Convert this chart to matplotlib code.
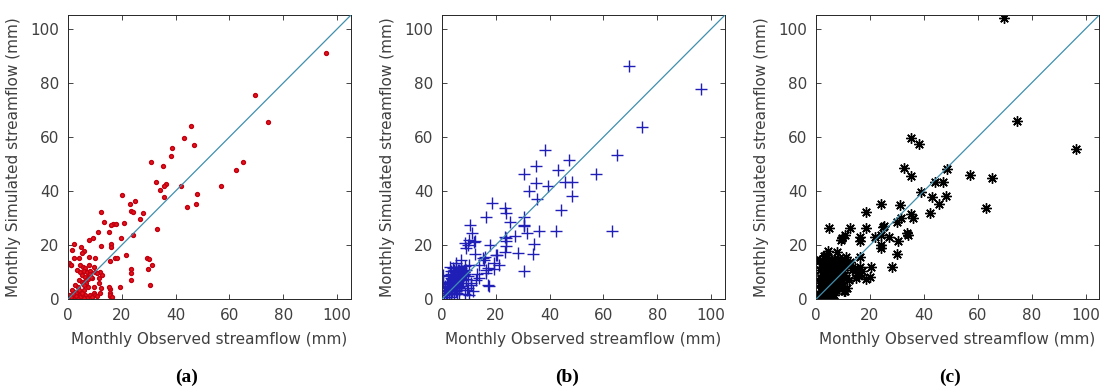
import numpy as np
import matplotlib
matplotlib.use("Agg")
import matplotlib.pyplot as plt

# ---- data (observed, simulated) in mm ----
obs_a = [95.9, 69.4, 74.3, 45.7, 43.0, 47.0, 38.6, 38.2, 30.9, 35.2, 65.2, 62.6, 32.9, 36.5,
         35.9, 41.9, 56.7, 34.1, 20.2, 48.1, 35.9, 24.8, 23.3, 47.7, 44.1, 12.2, 23.6, 24.2,
         28.0, 26.8, 13.6, 16.9, 15.9, 17.8, 20.9, 33.2, 15.4, 11.2, 24.2, 9.5, 8.0, 19.6,
         16.0, 12.3, 16.0, 2.3, 1.6, 4.8, 6.2, 5.2, 17.4, 18.3, 15.8, 21.5, 29.6, 30.1, 31.4,
         29.8, 23.5, 23.6, 23.5, 30.4, 19.5, 15.7, 15.7, 15.7, 0.6, 1.2,
         2.2, 4.1, 7.8, 10.2, 1.3, 4.7, 5.5, 6.5, 7.8, 9.6, 3.4, 4.7, 5.9, 7.1, 8.4, 10.2,
         12.1, 5.3, 6.5, 7.8, 9.0, 10.9, 11.7, 12.9, 4.1, 5.3, 6.2, 2.8, 3.8, 4.3, 7.5, 9.6,
         11.5, 12.5, 15.2, 0.4, 1.6, 3.4, 4.1, 6.5, 8.4, 9.6, 10.2, 2.8, 5.9, 15.8, 16.4,
         1.0, 2.0, 3.0, 4.5, 5.5, 2.4, 7.2, 9.0, 11.0, 12.0, 1.5, 3.2, 6.8, 7.4, 8.1, 5.0,
         0.8, 1.8, 2.6, 3.6, 4.8, 6.0, 3.1, 4.4, 2.1, 5.2, 6.9, 7.6, 8.6, 6.2, 1.1, 3.9]
sim_a = [91.1, 75.6, 65.7, 64.2, 59.6, 56.9, 56.0, 53.1, 50.7, 49.4, 50.9, 47.7, 43.3, 42.8,
         42.0, 42.0, 41.9, 40.4, 38.5, 38.8, 37.7, 36.3, 35.3, 35.3, 34.1, 32.3, 32.5, 32.3,
         31.9, 29.6, 28.5, 27.7, 27.4, 27.9, 28.3, 25.9, 24.8, 24.7, 23.7, 22.8, 21.9, 22.6,
         20.4, 19.6, 19.3, 20.4, 18.3, 19.3, 18.0, 17.0, 15.4, 15.3, 14.2, 16.5, 15.4, 14.9,
         12.7, 11.1, 11.1, 9.6, 7.2, 5.4, 4.7, 3.7, 2.5, 1.2, 13.3, 12.5,
         15.2, 15.2, 15.8, 15.2, 12.7, 12.7, 12.1, 11.7, 12.5, 12.1, 10.9, 10.2, 10.5, 10.2,
         10.5, 10.2, 10.2, 9.0, 8.4, 8.8, 7.8, 9.6, 7.8, 9.0, 7.1, 6.5, 5.9, 5.3, 4.7, 3.4,
         4.7, 4.7, 5.9, 4.1, 4.7, 1.6, 1.0, 1.3, 1.6, 1.6, 1.6, 2.2, 1.6, 2.8, 3.4, 1.6, 1.0,
         0.5, 0.3, 0.8, 0.4, 0.9, 2.0, 0.6, 0.8, 1.2, 2.5, 3.5, 2.4, 7.0, 8.0, 9.2, 1.1,
         0.2, 0.6, 0.4, 0.7, 0.3, 0.5, 1.4, 1.0, 1.9, 2.2, 6.2, 7.4, 8.4, 5.2, 0.9, 0.2]

obs_b = [69.6, 96.3, 74.5, 65.1, 57.4, 63.1, 38.4, 47.3, 35.0, 43.3, 30.7, 48.2, 45.9, 35.1,
         39.4, 32.4, 48.5, 35.3, 44.3, 18.7, 23.6, 16.3, 23.9, 30.4, 25.2, 30.4, 30.7, 10.5,
         11.1, 31.8, 36.2, 42.5, 27.3, 23.5, 24.0, 12.2, 8.5, 18.1, 34.4, 24.0, 9.2, 28.2,
         33.7, 20.4, 15.9, 12.3, 23.6, 21.2, 19.5, 30.4, 17.5, 16.3, 16.3, 13.2,
         12.1, 10.1, 9.7, 15.3, 15.8, 20.2, 23.9, 19.5, 13.9, 17.1, 17.1, 12.8, 14.0, 5.4,
         2.9, 0.4, 0.6, 7.2, 8.5, 10.2, 11.0, 10.9,
         1.0, 1.5, 2.0, 2.5, 3.0, 3.5, 4.0, 4.5, 5.0, 5.5, 6.0, 6.5, 7.0, 7.5, 8.0, 8.5,
         1.2, 2.2, 3.2, 4.2, 5.2, 6.2, 7.2, 8.2, 9.2, 2.7, 3.7, 4.7, 5.7, 6.7, 7.7, 8.7,
         1.8, 2.8, 3.8, 4.8, 5.8, 6.8, 7.8, 3.3, 4.3, 5.3, 6.3, 7.3, 2.4, 3.4, 4.4, 5.4,
         6.4, 9.5, 10.0, 1.4, 2.6, 3.6, 4.6, 5.6, 6.6, 8.8, 9.8, 0.8, 11.5,
         3.9, 4.9, 5.9, 6.9, 7.9, 4.1, 5.1, 6.1, 7.1, 8.1, 3.6, 4.6, 5.6, 6.6, 7.6, 2.1,
         3.1, 4.1, 5.1, 6.1, 2.3, 3.3, 4.3, 5.3, 6.3, 7.3, 8.3, 1.6, 2.6, 3.6, 9.0, 9.6,
         5.5, 6.5, 7.5, 4.5, 3.5, 6.0, 7.0, 5.0]
sim_b = [86.2, 77.8, 63.6, 53.3, 46.2, 25.4, 55.2, 51.4, 49.1, 47.7, 46.4, 43.2, 43.3, 43.0,
         42.0, 40.2, 38.3, 37.2, 33.0, 35.7, 33.8, 30.4, 31.9, 30.6, 28.4, 27.4, 27.2, 27.4,
         24.4, 24.4, 25.3, 25.4, 23.5, 23.0, 21.7, 21.7, 21.0, 20.0, 20.4, 19.8, 18.9, 17.0,
         16.8, 16.4, 15.8, 16.8, 17.5, 12.7, 11.1, 10.6, 5.1, 10.9, 9.9, 9.4,
         21.3, 22.0, 20.1, 15.2, 14.4, 16.4, 22.6, 13.3, 12.7, 11.5, 5.3, 7.1, 8.0, 13.3,
         12.1, 9.0, 6.5, 14.6, 12.4, 12.8, 6.2, 5.3,
         1.5, 2.5, 3.5, 4.5, 5.5, 6.5, 7.5, 8.0, 9.0, 9.5, 10.0, 10.5, 10.0, 9.0, 8.5, 9.5,
         3.0, 4.0, 5.0, 6.0, 7.0, 8.0, 9.0, 10.0, 11.0, 6.5, 7.5, 8.5, 9.0, 9.5, 10.5, 11.0,
         1.0, 2.0, 3.0, 4.0, 5.0, 6.0, 7.0, 10.5, 11.5, 3.0, 4.5, 5.0, 8.5, 9.5, 11.0, 12.0,
         2.0, 3.5, 1.5, 5.0, 6.0, 1.0, 2.0, 2.5, 3.5, 2.0, 4.0, 3.0, 3.0,
         6.0, 7.0, 8.0, 9.0, 10.0, 5.0, 6.0, 7.0, 8.0, 9.0, 8.0, 9.0, 10.0, 11.0, 7.0, 5.5,
         6.5, 7.5, 8.5, 9.5, 4.0, 5.0, 6.0, 7.0, 8.0, 9.0, 10.0, 2.5, 4.5, 6.5, 7.5, 8.5,
         4.0, 5.0, 6.0, 3.0, 2.0, 11.0, 11.5, 10.0]

obs_c = [69.6, 74.4, 96.3, 35.2, 38.4, 32.5, 35.3, 48.5, 57.3, 65.4, 44.3, 47.2, 39.1, 43.2,
         48.1, 45.7, 42.2, 63.0, 31.1, 24.3, 35.4, 36.0, 31.4, 30.1, 25.2,
         4.9, 12.6, 18.4, 18.4, 16.3, 16.3, 9.3, 10.7, 21.9, 24.1, 24.9, 27.0, 34.2, 33.6,
         30.5, 30.1, 28.3, 24.0, 24.2, 20.3, 20.0, 16.3, 15.2, 14.8, 12.6, 9.5, 16.3, 1.5,
         12.6, 13.5, 14.5, 15.8, 17.0, 18.5,
         0.5, 1.0, 1.5, 2.0, 2.5, 3.0, 3.5, 4.0, 4.5, 5.0, 5.5, 6.0, 6.5, 7.0, 7.5, 8.0,
         8.5, 9.0, 9.5, 10.0, 10.5, 11.0, 1.2, 2.2, 3.2, 4.2, 5.2, 6.2, 7.2, 8.2, 9.2,
         10.2, 2.7, 3.7, 4.7, 5.7, 6.7, 7.7, 8.7, 1.8, 2.8, 3.8, 4.8, 5.8, 6.8, 7.8,
         3.3, 4.3, 5.3, 6.3, 7.3, 2.4, 3.4, 4.4, 5.4, 6.4, 9.5, 11.5, 1.4, 2.6, 3.6,
         4.6, 5.6, 0.8, 12.2, 10.8,
         2.0, 3.0, 4.0, 5.0, 6.0, 7.0, 8.0, 9.0, 10.0, 3.5, 4.5, 5.5, 6.5, 7.5, 8.5, 9.5,
         2.5, 3.5, 4.5, 5.5, 6.5, 7.5, 8.5, 4.0, 5.0, 6.0, 7.0, 8.0, 9.0, 10.5, 11.5, 1.0,
         2.0, 3.0, 4.0, 5.0, 6.0, 1.5, 2.5, 3.5, 9.8, 11.0]
sim_c = [104.1, 66.1, 55.7, 59.6, 57.6, 48.5, 45.7, 48.1, 46.0, 44.8, 43.4, 43.3, 39.6, 37.9,
         38.1, 35.3, 31.8, 33.6, 34.8, 35.4, 31.6, 29.9, 30.0, 28.4, 27.1,
         26.5, 26.3, 32.3, 26.3, 23.0, 21.5, 22.0, 23.8, 23.2, 23.8, 26.9, 23.0, 23.8, 24.4,
         21.7, 16.7, 12.1, 18.9, 20.0, 12.1, 8.4, 12.1, 9.6, 8.0, 13.9, 22.6, 15.8, 14.6,
         12.6, 10.8, 11.5, 9.0, 10.5, 7.6,
         1.0, 2.0, 1.5, 3.0, 2.5, 4.0, 5.0, 3.5, 6.0, 7.0, 5.5, 8.0, 9.0, 7.5, 6.5, 10.0,
         8.5, 9.5, 7.0, 11.0, 9.0, 8.0, 14.0, 12.0, 10.5, 13.0, 12.5, 11.5, 13.5, 15.0, 12.0,
         10.0, 6.5, 9.0, 11.0, 4.0, 3.0, 5.5, 4.5, 7.5, 16.0, 8.5, 15.0, 2.0, 1.5, 17.5,
         1.0, 0.5, 2.0, 6.0, 3.5, 4.5, 1.0, 0.8, 3.0, 5.0, 6.5, 12.8, 11.0, 13.5, 16.5,
         18.0, 14.5, 0.3, 7.0, 3.0,
         8.0, 9.0, 10.0, 11.0, 12.0, 13.0, 12.0, 11.0, 12.5, 6.0, 7.0, 8.0, 9.5, 10.5, 11.5, 13.5,
         10.0, 11.5, 12.5, 14.0, 4.5, 5.5, 6.0, 1.5, 2.5, 3.5, 4.5, 5.5, 6.5, 3.0, 4.0, 0.5,
         0.8, 1.2, 0.6, 1.5, 0.4, 6.0, 5.0, 8.0, 14.5, 15.5]

ticks = [0, 20, 40, 60, 80, 100]
panel_labels = ["(a)", "(b)", "(c)"]
xlab = "Monthly Observed streamflow (mm)"
ylab = "Monthly Simulated streamflow (mm)"

fig = plt.figure(figsize=(11, 3.89), dpi=100)

lefts = [67.7 / 1100, 441.7 / 1100, 816 / 1100]
label_x = [187 / 1100, 567 / 1100, 950 / 1100]
styles = [dict(marker='o', ms=2.8, color='#e8141a', mec='#c00010', ls='none'),
          dict(marker='+', ms=8, color='#1f1fb8', mew=1.0, ls='none'),
          dict(marker=(8, 2, 0), ms=7.5, color='black', mew=1.0, ls='none')]
data = [(obs_a, sim_a), (obs_b, sim_b), (obs_c, sim_c)]

for i in range(3):
    ax = fig.add_axes([lefts[i], 89.7 / 389, 283 / 1100, 284 / 389])
    ax.plot(data[i][0], data[i][1], **styles[i], zorder=2)
    ax.plot([0, 105], [0, 105], color='#3f8fae', lw=0.9, zorder=3)
    ax.set_xlim(0, 105)
    ax.set_ylim(0, 105)
    ax.set_xticks(ticks)
    ax.set_yticks(ticks)
    ax.tick_params(direction='in', top=True, right=True, length=3.5, width=0.6,
                   labelsize=11, colors='#262626', labelcolor='#404040', pad=6)
    for s in ax.spines.values():
        s.set_color('#262626')
        s.set_linewidth(0.7)
    ax.set_xlabel(xlab, fontsize=11, color='#404040', labelpad=7)
    ax.set_ylabel(ylab, fontsize=11, color='#404040', labelpad=7)
    fig.text(label_x[i], 1 - 377 / 389, panel_labels[i], ha='center', va='center',
             fontsize=14, fontweight='bold', family='Liberation Serif')

fig.savefig("out.png", dpi=100)
